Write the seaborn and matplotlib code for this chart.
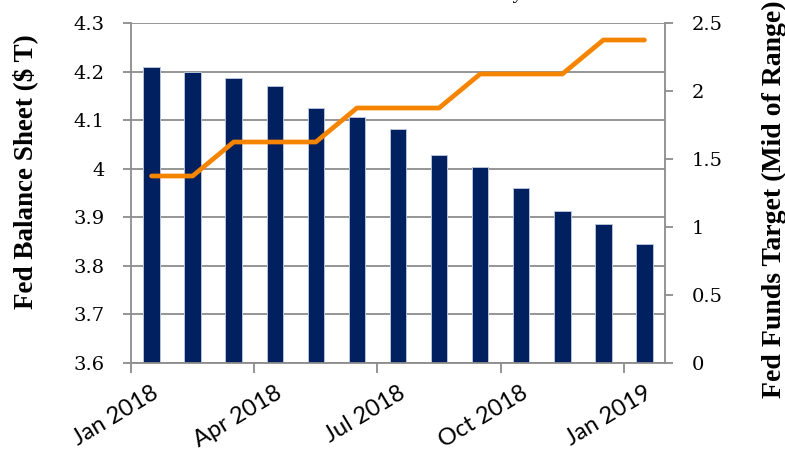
import matplotlib
matplotlib.use("Agg")
import matplotlib.pyplot as plt
import matplotlib.transforms as mtransforms
import numpy as np
import seaborn as sns

months = ["Jan 2018", "Feb 2018", "Mar 2018", "Apr 2018", "May 2018", "Jun 2018",
          "Jul 2018", "Aug 2018", "Sep 2018", "Oct 2018", "Nov 2018", "Dec 2018",
          "Jan 2019"]
balance_sheet = [4.210, 4.200, 4.187, 4.171, 4.126, 4.107, 4.081, 4.028, 4.003,
                 3.961, 3.912, 3.886, 3.844]
fed_funds = [1.375, 1.375, 1.625, 1.625, 1.625, 1.875, 1.875, 1.875, 2.125,
             2.125, 2.125, 2.375, 2.375]
tick_labels = ["Jan 2018", "Apr 2018", "Jul 2018", "Oct 2018", "Jan 2019"]

navy = "#002060"
orange = "#f58400"
grid_gray = "#8c8c8c"

sns.set_theme(style="white")

pos = np.arange(len(months))

fig = plt.figure(figsize=(7.85, 4.53), dpi=100)
ax = fig.add_axes([131 / 785, 1 - 363 / 453, (665 - 131) / 785, (363 - 23) / 453])

sns.barplot(x=pos, y=balance_sheet, ax=ax, native_scale=True, width=0.4,
            color=navy, edgecolor="#b8c2da", linewidth=0.7, saturation=1)
ax.set_ylim(3.6, 4.3)
ax.set_xlim(-0.5, 12.5)
ax.set_yticks(np.round(np.arange(3.6, 4.31, 0.1), 1))
ax.set_yticklabels(["3.6", "3.7", "3.8", "3.9", "4", "4.1", "4.2", "4.3"])
ax.yaxis.grid(True, color=grid_gray, linewidth=1.3)
ax.set_axisbelow(True)

ax.set_xticks([-0.5, 2.5, 5.5, 8.5, 11.5])
ax.set_xticklabels(tick_labels)

ax2 = ax.twinx()
sns.lineplot(x=pos, y=fed_funds, ax=ax2, color=orange, linewidth=3.4,
             solid_capstyle="round")
ax2.set_ylim(0, 2.5)
ax2.set_yticks([0, 0.5, 1, 1.5, 2, 2.5])
ax2.set_yticklabels(["0", "0.5", "1", "1.5", "2", "2.5"])
ax2.set_xlim(-0.5, 12.5)

for a in (ax, ax2):
    a.spines["top"].set_visible(False)
    for side in ("left", "right", "bottom"):
        a.spines[side].set_color(grid_gray)
        a.spines[side].set_linewidth(1.3)
ax.spines["right"].set_visible(False)
ax2.spines["left"].set_visible(False)
ax2.spines["bottom"].set_visible(False)

serif = "DejaVu Serif"
ax.tick_params(axis="y", left=True, direction="out", length=6,
               width=1.3, color=grid_gray, labelsize=14, pad=13)
ax2.tick_params(axis="y", right=True, direction="out", length=6,
                width=1.3, color=grid_gray, labelsize=14, pad=13)
ax.tick_params(axis="x", bottom=True, direction="out", length=7, width=1.3,
               color=grid_gray, labelsize=17, pad=2)
for lbl in ax.get_yticklabels() + ax2.get_yticklabels():
    lbl.set_fontfamily(serif)
    lbl.set_color("black")

offset = mtransforms.ScaledTranslation(0.2, -0.07, fig.dpi_scale_trans)
for lbl in ax.get_xticklabels():
    lbl.set_fontfamily("Lato")
    lbl.set_color("black")
    lbl.set_rotation(31)
    lbl.set_ha("right")
    lbl.set_va("top")
    lbl.set_rotation_mode("anchor")
    lbl.set_transform(lbl.get_transform() + offset)

ax.set_ylabel("Fed Balance Sheet ($ T)", fontfamily="Liberation Serif",
              fontweight="bold", fontsize=19.5, color="black")
ax.yaxis.set_label_coords(-0.174, 0.562)
ax2.set_ylabel("Fed Funds Target (Mid of Range)", fontfamily="Liberation Serif",
               fontweight="bold", fontsize=20, color="black")
ax2.yaxis.set_label_coords(1.182, 0.482)
ax.set_xlabel("")

fig.text(523 / 785, 1.004, "Fed Policy", ha="right", va="baseline",
         fontfamily="Liberation Serif", fontsize=15, color="black")

fig.savefig("out.png", dpi=100)
